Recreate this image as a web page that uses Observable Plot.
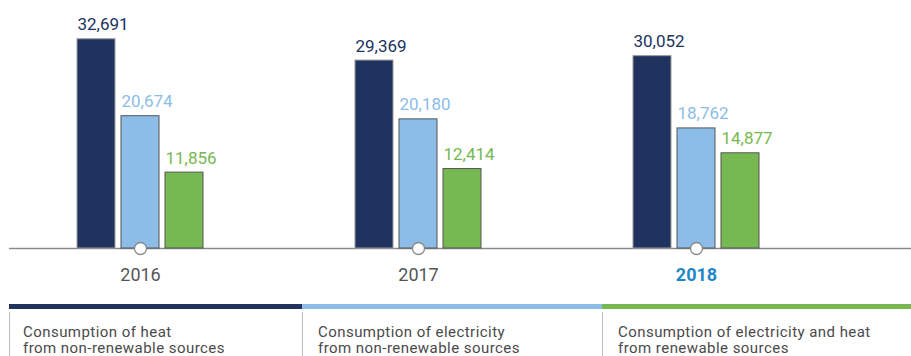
<!DOCTYPE html>
<html>
<head>
<meta charset="utf-8">
<script src="https://cdn.jsdelivr.net/npm/d3@7"></script>
<script src="https://cdn.jsdelivr.net/npm/@observablehq/plot@0.6"></script>
<style>
  html, body { margin: 0; padding: 0; background: #fff; }
  body { width: 911px; height: 356px; overflow: hidden; font-family: Roboto, "Noto Sans", sans-serif; }
  #legend { position: relative; width: 911px; height: 60px; }
  .strip { position: absolute; top: 8px; height: 5px; }
  .col { position: absolute; top: 16px; bottom: 0; border-left: 1px solid #bdbdbd; }
  .col span { position: absolute; top: 11.5px; font-size: 15px; letter-spacing: 0.45px; line-height: 16.5px; color: #4a4a4a; white-space: nowrap; }
</style>
</head>
<body>
<div id="chart"></div>
<div id="legend"></div>
<script>
const years = ["2016", "2017", "2018"];
const seriesNames = [
  "Consumption of heat\nfrom non-renewable sources",
  "Consumption of electricity\nfrom non-renewable sources",
  "Consumption of electricity and heat\nfrom renewable sources"
];
const heatNonRenewable = [32691, 29369, 30052];
const elecNonRenewable = [20674, 20180, 18762];
const renewable = [11856, 12414, 14877];
const seriesColors = ["#20335e", "#8bbde8", "#76b852"];
const highlightYear = "2018";

const seriesValues = [heatNonRenewable, elecNonRenewable, renewable];
const tables = seriesValues.map(vals => years.map((y, i) => ({year: y, value: vals[i]})));

const step = 44, barW = 38;
const marks = [Plot.ruleY([0], {stroke: "#8a8a8a", strokeWidth: 1.5})];
tables.forEach((t, s) => {
  const off = (s - 1) * step;
  const inset = (278 - barW) / 2;
  marks.push(Plot.barY(t, {
    x: "year", y: "value", fill: seriesColors[s],
    stroke: s === 0 ? "#9a9a9a" : "#555", strokeWidth: 1,
    insetLeft: inset + off, insetRight: inset - off
  }));
  marks.push(Plot.text(t, {
    x: "year", y: "value", text: d => d3.format(",")(d.value),
    fill: seriesColors[s], fontSize: 17, textAnchor: "start", lineAnchor: "bottom",
    dx: off - barW / 2, dy: -9
  }));
});
marks.push(Plot.dot(years, {x: d => d, y: () => 0, r: 6, fill: "white", stroke: "#888", strokeWidth: 1.3}));
marks.push(Plot.text(years.filter(y => y !== highlightYear), {x: d => d, y: () => 0, text: d => d, dy: 27, fontSize: 18, fill: "#555"}));
marks.push(Plot.text(years.filter(y => y === highlightYear), {x: d => d, y: () => 0, text: d => d, dy: 27, fontSize: 18, fontWeight: "bold", fill: "#1f87c9"}));

const chart = Plot.plot({
  width: 911, height: 296,
  marginLeft: 9, marginRight: 0, marginTop: 24, marginBottom: 48,
  style: {fontFamily: "Roboto, sans-serif", background: "white"},
  x: {domain: years, range: [1, 835], padding: 0, axis: null},
  y: {domain: [0, 35000], axis: null},
  marks
});
document.getElementById("chart").appendChild(chart);

// legend
const legend = document.getElementById("legend");
const bounds = [9, 302, 602, 911];
seriesNames.forEach((name, i) => {
  const strip = document.createElement("div");
  strip.className = "strip";
  strip.style.left = bounds[i] + "px";
  strip.style.width = (bounds[i + 1] - bounds[i]) + "px";
  strip.style.background = seriesColors[i];
  legend.appendChild(strip);
  const col = document.createElement("div");
  col.className = "col";
  col.style.left = bounds[i] + "px";
  col.style.width = (bounds[i + 1] - bounds[i] - 1) + "px";
  const span = document.createElement("span");
  span.style.left = (i === 0 ? 13 : 15) + "px";
  span.innerHTML = name.split("\n").join("<br>");
  col.appendChild(span);
  legend.appendChild(col);
});
</script>
</body>
</html>
